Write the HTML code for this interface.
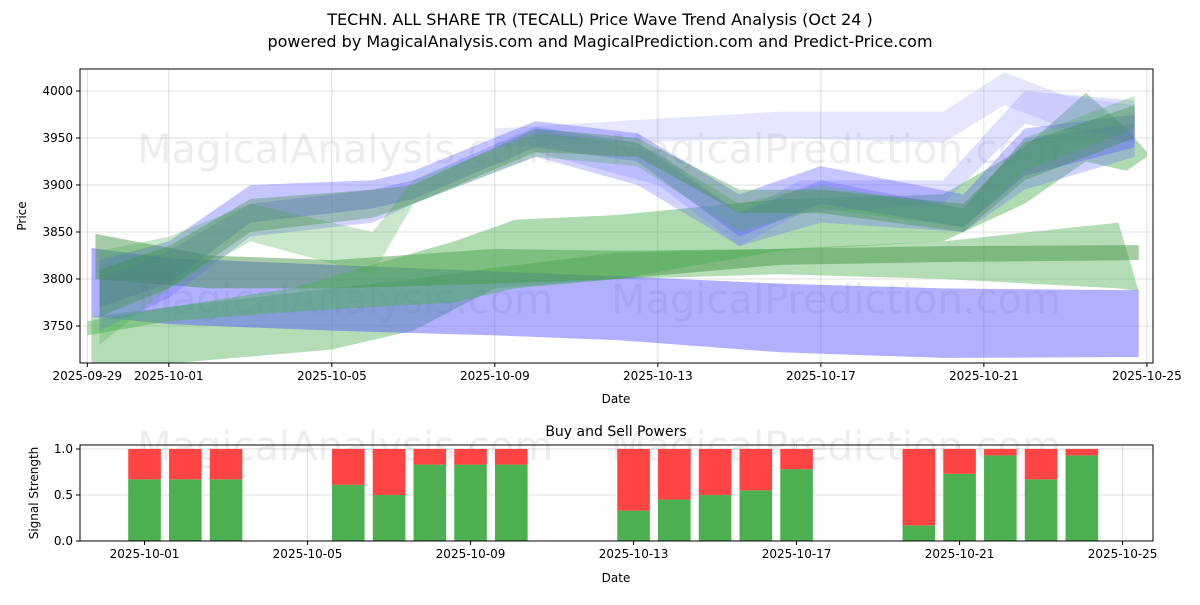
<!DOCTYPE html>
<html><head><meta charset="utf-8"><style>
body{margin:0;background:#fff;font-family:"Liberation Sans","DejaVu Sans",sans-serif;}
svg text{font-family:"DejaVu Sans","Liberation Sans",sans-serif;}
</style></head><body>
<svg id="chart" width="1200" height="600" xmlns="http://www.w3.org/2000/svg">
<text x="600" y="25" text-anchor="middle" font-size="16">TECHN. ALL SHARE TR (TECALL) Price Wave Trend Analysis (Oct 24 )</text>
<text x="600" y="47" text-anchor="middle" font-size="16">powered by MagicalAnalysis.com and MagicalPrediction.com and Predict-Price.com</text>
<g id="topg"></g><g id="botg"></g>
</svg>
<script>
// ---- data ----
const xTickLabels=["2025-09-29","2025-10-01","2025-10-05","2025-10-09","2025-10-13","2025-10-17","2025-10-21","2025-10-25"];
const xTickDays=[0,2,6,10,14,18,22,26];
const yTicks=[3750,3800,3850,3900,3950,4000];
const barDays=[2,3,4,7,8,9,10,11,14,15,16,17,18,21,22,23,24,25];
const buyPower=[0.67,0.67,0.67,0.61,0.5,0.83,0.83,0.83,0.33,0.45,0.5,0.55,0.78,0.17,0.73,0.93,0.67,0.93];
const bandG_days=[0.1,2,6,10,13,17,21,25.8];
const bandG_hi=[3833,3822,3815,3808,3803,3795,3790,3788];
const bandG_lo=[3760,3752,3745,3740,3735,3722,3716,3717];
const bandJ_days=[0.1,2,6,8,10,13,17,21,25.3,25.8];
const bandJ_hi=[3760,3770,3790,3800,3812,3828,3832,3840,3860,3787];
const bandJ_lo=[3705,3710,3725,3745,3790,3800,3805,3800,3790,3787];
const bandH_days=[0.2,3,6,10,13,17,21,25.8];
const bandH_hi=[3848,3825,3820,3832,3830,3832,3835,3836];
const bandH_lo=[3800,3790,3790,3795,3800,3815,3818,3820];
const bandI_days=[0,2,5,9,10.5,13,17,21,23,24.5,25.5,26];
const bandI_hi=[3755,3770,3790,3840,3863,3868,3885,3890,3940,3998,3960,3935];
const bandI_lo=[3740,3755,3765,3775,3790,3800,3830,3840,3880,3925,3915,3930];
const bandE_days=[10,13,17,21,22.5,24,25.7];
const bandE_hi=[3960,3968,3978,3978,4020,3995,3985];
const bandE_lo=[3940,3945,3950,3945,3985,3960,3950];
const bandF_days=[11,14,16,17.5,21,23,25.7];
const bandF_hi=[3960,3935,3870,3905,3905,4000,3990];
const bandF_lo=[3935,3900,3835,3870,3880,3965,3945];
const trend_days=[0.3,2,4,7,8,11,13.5,16,18,21.5,23,25.7];
const bandA_hi=[3820,3840,3900,3905,3915,3968,3955,3890,3920,3890,3960,3975];
const bandA_lo=[3770,3795,3860,3875,3885,3940,3925,3845,3880,3855,3910,3940];
const bandB_hi=[3800,3830,3880,3895,3905,3962,3945,3870,3905,3875,3950,3965];
const bandB_lo=[3745,3780,3845,3860,3880,3930,3900,3835,3860,3850,3895,3930];
const bandC_hi=[3810,3835,3885,3895,3900,3960,3950,3895,3895,3880,3945,3985];
const bandC_lo=[3760,3790,3850,3865,3880,3935,3930,3870,3870,3850,3905,3950];
const bandD_hi=[3830,3845,3880,3850,3905,3955,3945,3880,3900,3875,3950,3995];
const bandD_lo=[3730,3790,3840,3805,3880,3930,3920,3850,3875,3855,3915,3960];
// ---- axes ----
const NS="http://www.w3.org/2000/svg";
const L=80,R=1153,T=69,B=363;
const d0=-0.18,d1=26.15;
const X=d=>L+(d-d0)/(d1-d0)*(R-L);
const XB=d=>X(d)-24.3;
const vMin=3710.6,vMax=4023.4;
const Y=v=>B-(v-vMin)/(vMax-vMin)*(B-T);
const BT=445,BB=541,sMax=1.043;
const YS=s=>BB-s/sMax*(BB-BT);
function el(parent,tag,attrs){const e=document.createElementNS(NS,tag);for(const k in attrs)e.setAttribute(k,attrs[k]);parent.appendChild(e);return e;}
const topG=document.getElementById('topg'),botG=document.getElementById('botg');
// grid
xTickDays.forEach(d=>{el(topG,'line',{x1:X(d),x2:X(d),y1:T,y2:B,stroke:'#b0b0b0','stroke-width':0.8,'stroke-opacity':0.5});});
xTickDays.slice(1).forEach(d=>{el(botG,'line',{x1:XB(d),x2:XB(d),y1:BT,y2:BB,stroke:'#b0b0b0','stroke-width':0.8,'stroke-opacity':0.5});});
yTicks.forEach(v=>el(topG,'line',{x1:L,x2:R,y1:Y(v),y2:Y(v),stroke:'#b0b0b0','stroke-width':0.8,'stroke-opacity':0.5}));
[0,0.5,1].forEach(s=>el(botG,'line',{x1:L,x2:R,y1:YS(s),y2:YS(s),stroke:'#b0b0b0','stroke-width':0.8,'stroke-opacity':0.5}));
// watermarks
function wm(g,txt,x,y){const t=el(g,'text',{x:x,y:y,'font-size':40,fill:'#888','fill-opacity':0.15,'text-anchor':'middle'});t.textContent=txt;

}
wm(topG,'MagicalAnalysis.com',345,163);wm(topG,'MagicalPrediction.com',836,163);
wm(topG,'MagicalAnalysis.com',345,313);wm(topG,'MagicalPrediction.com',836,313);
// bands
const clip=el(topG,'clipPath',{id:'cp'});el(clip,'rect',{x:L,y:T,width:R-L,height:B-T});
const bg=el(topG,'g',{'clip-path':'url(#cp)'});
function band(days,lo,hi,color,op,name){
 let p=days.map((d,i)=>X(d)+','+Y(hi[i]));
 for(let i=days.length-1;i>=0;i--)p.push(X(days[i])+','+Y(lo[i]));
 const e=el(bg,'polygon',{points:p.join(' '),fill:color,'fill-opacity':op});
 
 
}
band(bandJ_days,bandJ_lo,bandJ_hi,'#4caf50',0.42,'wave-band-light-green');
band(bandG_days,bandG_lo,bandG_hi,'#5050ff',0.45,'wave-band-blue-low');
band(bandH_days,bandH_lo,bandH_hi,'#3a8f3a',0.45,'wave-band-green-flat');
band(bandI_days,bandI_lo,bandI_hi,'#4caf50',0.45,'wave-band-green-rising');
band(bandE_days,bandE_lo,bandE_hi,'#8080ff',0.2,'wave-band-blue-high');
band(bandF_days,bandF_lo,bandF_hi,'#8080ff',0.25,'wave-band-blue-dip');
band(trend_days,bandB_lo,bandB_hi,'#6a6aff',0.3,'wave-band-trend-b');
band(trend_days,bandA_lo,bandA_hi,'#5a5aff',0.35,'wave-band-trend-a');
band(trend_days,bandD_lo,bandD_hi,'#4caf50',0.3,'wave-band-trend-d');
band(trend_days,bandC_lo,bandC_hi,'#3a8f3a',0.35,'wave-band-trend-c');
// frame + ticks top
el(topG,'rect',{x:L,y:T,width:R-L,height:B-T,fill:'none',stroke:'#000','stroke-width':1});
xTickDays.forEach((d,i)=>{el(topG,'line',{x1:X(d),x2:X(d),y1:B,y2:B+4,stroke:'#000'});
 const t=el(topG,'text',{x:X(d),y:B+17,'font-size':12,'text-anchor':'middle'});t.textContent=xTickLabels[i];
 
 });
yTicks.forEach(v=>{el(topG,'line',{x1:L-4,x2:L,y1:Y(v),y2:Y(v),stroke:'#000'});
 const t=el(topG,'text',{x:L-7,y:Y(v)+4,'font-size':12,'text-anchor':'end'});t.textContent=v;
 
 });
let t=el(topG,'text',{x:616,y:403,'font-size':12,'text-anchor':'middle'});t.textContent='Date';


t=el(topG,'text',{x:26,y:216,'font-size':12,'text-anchor':'middle',transform:'rotate(-90 26 216)'});t.textContent='Price';


// bottom chart
wm(botG,'MagicalAnalysis.com',345,460);wm(botG,'MagicalPrediction.com',836,460);
const bw=0.8*(X(1)-X(0));
barDays.forEach((d,i)=>{
 const g=el(botG,'rect',{x:XB(d)-bw/2,y:YS(buyPower[i]),width:bw,height:YS(0)-YS(buyPower[i]),fill:'#4caf50'});
 
 
 const r=el(botG,'rect',{x:XB(d)-bw/2,y:YS(1),width:bw,height:YS(buyPower[i])-YS(1),fill:'#ff4444'});
 
 
});
el(botG,'rect',{x:L,y:BT,width:R-L,height:BB-BT,fill:'none',stroke:'#000','stroke-width':1});
xTickDays.slice(1).forEach((d,i)=>{el(botG,'line',{x1:XB(d),x2:XB(d),y1:BB,y2:BB+4,stroke:'#000'});
 const t=el(botG,'text',{x:XB(d),y:BB+17,'font-size':12,'text-anchor':'middle'});t.textContent=xTickLabels[i+1];
 
 });
[0,0.5,1].forEach(s=>{el(botG,'line',{x1:L-4,x2:L,y1:YS(s),y2:YS(s),stroke:'#000'});
 const t=el(botG,'text',{x:L-7,y:YS(s)+4,'font-size':12,'text-anchor':'end'});t.textContent=s.toFixed(1);
 
 });
t=el(botG,'text',{x:616,y:436,'font-size':14,'text-anchor':'middle'});t.textContent='Buy and Sell Powers';


t=el(botG,'text',{x:616,y:582,'font-size':12,'text-anchor':'middle'});t.textContent='Date';


t=el(botG,'text',{x:38,y:493,'font-size':12,'text-anchor':'middle',transform:'rotate(-90 38 493)'});t.textContent='Signal Strength';


</script>
</body></html>
